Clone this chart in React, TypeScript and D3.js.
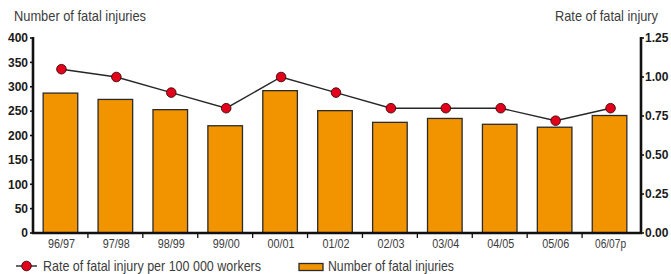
import { useMemo } from 'react'
import * as d3 from 'd3'

const WIDTH = 671
const HEIGHT = 274
const MARGIN = { top: 38, right: 34, bottom: 41, left: 33 }

const YEARS = ['96/97', '97/98', '98/99', '99/00', '00/01', '01/02', '02/03', '03/04', '04/05', '05/06', '06/07p']
const FATAL_INJURIES = [287, 274, 253, 220, 292, 251, 227, 235, 223, 217, 241]
const FATAL_RATE = [1.05, 1.0, 0.9, 0.8, 1.0, 0.9, 0.8, 0.8, 0.8, 0.72, 0.8]

const COUNT_TICKS = [0, 50, 100, 150, 200, 250, 300, 350, 400]
const RATE_TICKS = [0, 0.25, 0.5, 0.75, 1.0, 1.25]

const FONT = '"Liberation Sans", Arial, Helvetica, sans-serif'
const BAR_COLOR = '#f29400'
const DOT_COLOR = '#e2001a'
const TEXT_COLOR = '#3c3c3c'

// the original uses a condensed face, so squeeze the regular one to the same width
function Narrow({ x, y, w, size, anchor = 'start', children }: {
  x: number; y: number; w: number; size: number; anchor?: string; children: string
}) {
  return (
    <text
      x={x}
      y={y}
      fontSize={size}
      fill={TEXT_COLOR}
      textAnchor={anchor}
      textLength={w}
      lengthAdjust="spacingAndGlyphs"
    >
      {children}
    </text>
  )
}

export default function App() {
  const x = useMemo(() => d3.scaleBand<string>()
    .domain(YEARS)
    .range([MARGIN.left, WIDTH - MARGIN.right])
    .paddingInner(0.37)
    .paddingOuter(0.185), [])

  // outer band (no padding) for the tick marks between categories
  const xCat = useMemo(() => d3.scaleBand<string>()
    .domain(YEARS)
    .range([MARGIN.left, WIDTH - MARGIN.right]), [])

  const yCount = useMemo(() => d3.scaleLinear()
    .domain([0, 400])
    .range([HEIGHT - MARGIN.bottom, MARGIN.top]), [])

  const yRate = useMemo(() => d3.scaleLinear()
    .domain([0, 1.25])
    .range([HEIGHT - MARGIN.bottom, MARGIN.top]), [])

  const cx = (yr: string) => (xCat(yr) as number) + xCat.bandwidth() / 2 + 1

  const line = d3.line<number>()
    .x((_, i) => cx(YEARS[i]))
    .y(d => yRate(d))

  const baseY = HEIGHT - MARGIN.bottom
  const leftX = MARGIN.left
  const rightX = WIDTH - MARGIN.right

  return (
    <svg
      width={WIDTH}
      height={HEIGHT}
      style={{ position: 'absolute', left: 0, top: 0, background: '#fff', fontFamily: FONT }}
    >
      {/* axis titles */}
      <Narrow x={14} y={21} w={132} size={14.5}>Number of fatal injuries</Narrow>
      <Narrow x={658} y={21} w={103} size={14.5} anchor="end">Rate of fatal injury</Narrow>

      {/* bars */}
      {YEARS.map((yr, i) => (
        <rect
          key={yr}
          x={x(yr)}
          y={yCount(FATAL_INJURIES[i])}
          width={x.bandwidth()}
          height={baseY - yCount(FATAL_INJURIES[i])}
          fill={BAR_COLOR}
          stroke="#2b2b2b"
          strokeWidth={1.3}
        />
      ))}

      {/* rate line */}
      <path d={line(FATAL_RATE) || ''} fill="none" stroke="#262626" strokeWidth={1.4} />
      {FATAL_RATE.map((r, i) => (
        <circle
          key={YEARS[i]}
          cx={cx(YEARS[i])}
          cy={yRate(r)}
          r={4.8}
          fill={DOT_COLOR}
          stroke="#3a0a0a"
          strokeWidth={0.9}
        />
      ))}

      {/* left axis */}
      <line x1={leftX} x2={leftX} y1={MARGIN.top - 1} y2={baseY + 1} stroke="#111" strokeWidth={2.6} />
      {COUNT_TICKS.map(t => (
        <g key={`c-${t}`}>
          <line x1={leftX - 3} x2={leftX} y1={yCount(t)} y2={yCount(t)} stroke="#111" strokeWidth={1.6} />
          <text
            x={leftX - 5}
            y={yCount(t)}
            dy="0.36em"
            textAnchor="end"
            fontSize={12}
            fontWeight="bold"
            fill="#1a1a1a"
          >
            {t}
          </text>
        </g>
      ))}

      {/* right axis */}
      <line x1={rightX + 4} x2={rightX + 4} y1={MARGIN.top - 1} y2={baseY + 1} stroke="#111" strokeWidth={2.6} />
      {RATE_TICKS.map(t => (
        <g key={`r-${t}`}>
          <line x1={rightX + 4} x2={rightX + 7} y1={yRate(t)} y2={yRate(t)} stroke="#111" strokeWidth={1.6} />
          <text
            x={rightX + 8}
            y={yRate(t)}
            dy="0.36em"
            fontSize={12}
            fontWeight="bold"
            fill="#1a1a1a"
          >
            {t.toFixed(2)}
          </text>
        </g>
      ))}

      {/* bottom axis */}
      <line x1={leftX - 1} x2={rightX + 5} y1={baseY} y2={baseY} stroke="#111" strokeWidth={2.4} />
      {YEARS.slice(1).map(yr => (
        <line
          key={`t-${yr}`}
          x1={xCat(yr)}
          x2={xCat(yr)}
          y1={baseY}
          y2={baseY + 5}
          stroke="#111"
          strokeWidth={1.3}
        />
      ))}
      {YEARS.map(yr => (
        <Narrow
          key={`l-${yr}`}
          x={(xCat(yr) as number) + xCat.bandwidth() / 2 + 1}
          y={baseY + 15}
          w={yr.length > 5 ? 31 : 27}
          size={12.5}
          anchor="middle"
        >
          {yr}
        </Narrow>
      ))}

      {/* legend */}
      <g transform="translate(0, 266)">
        <line x1={16} x2={37} y1={0} y2={0} stroke="#262626" strokeWidth={1.4} />
        <circle cx={26.5} cy={0} r={4.8} fill={DOT_COLOR} stroke="#3a0a0a" strokeWidth={0.9} />
        <Narrow x={43} y={5} w={218} size={14.5}>Rate of fatal injury per 100 000 workers</Narrow>
        <rect x={299} y={-2.5} width={24} height={7} fill={BAR_COLOR} stroke="#2b2b2b" strokeWidth={1.3} />
        <Narrow x={328} y={5} w={126} size={14.5}>Number of fatal injuries</Narrow>
      </g>
    </svg>
  )
}
